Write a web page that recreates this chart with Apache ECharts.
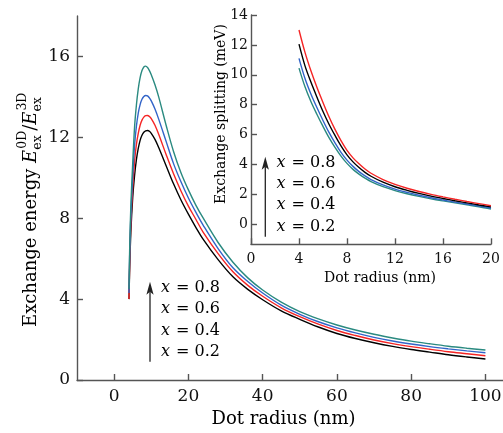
<!DOCTYPE html>
<html><head><meta charset="utf-8">
<script src="https://cdn.jsdelivr.net/npm/echarts@6/dist/echarts.min.js"></script>
<style>html,body{margin:0;padding:0;background:#fff}#c{width:503px;height:433px}</style>
</head><body><div id="c"></div>
<script>
// ---- data ----
const legendLabels = ['x = 0.8', 'x = 0.6', 'x = 0.4', 'x = 0.2'];
const mainXTicks = [0, 20, 40, 60, 80, 100];
const mainYTicks = [0, 4, 8, 12, 16];
const insetXTicks = [0, 4, 8, 12, 16, 20];
const insetYTicks = [0, 2, 4, 6, 8, 10, 12, 14];

const mainRadius = [4,4.2,4.5,5,5.5,6,6.5,7,7.5,8,8.5,9,9.5,10,11,12,14,16,18,20,22,24,28,32,36,40,45,50,55,60,65,70,75,80,85,90,95,100];
const mainX08 = [4.5,6.6,8.6,10.7,12.5,13.6,14.4,14.95,15.3,15.48,15.52,15.45,15.3,15.1,14.6,14.0,12.6,11.3,10.25,9.4,8.65,8.0,6.8,5.82,5.05,4.45,3.85,3.38,3.02,2.72,2.47,2.26,2.08,1.92,1.79,1.67,1.57,1.48];
const mainX06 = [4.3,6.3,8.1,10.05,11.6,12.55,13.2,13.62,13.88,14.02,14.07,14.05,13.95,13.8,13.4,12.9,11.8,10.7,9.8,9.0,8.3,7.65,6.5,5.55,4.87,4.3,3.7,3.25,2.88,2.58,2.33,2.11,1.93,1.78,1.65,1.54,1.44,1.35];
const mainX04 = [4.0,5.9,7.7,9.5,10.8,11.65,12.2,12.6,12.85,13.0,13.07,13.08,13.03,12.93,12.6,12.15,11.15,10.2,9.35,8.6,7.95,7.3,6.25,5.35,4.68,4.14,3.57,3.13,2.76,2.45,2.2,1.98,1.8,1.65,1.52,1.4,1.3,1.2];
const mainX02 = [4.0,5.6,7.3,9.0,10.1,10.9,11.45,11.85,12.1,12.25,12.32,12.34,12.3,12.2,11.9,11.5,10.6,9.7,8.9,8.2,7.55,6.95,5.95,5.1,4.48,3.97,3.42,3.0,2.62,2.3,2.05,1.84,1.66,1.51,1.38,1.25,1.14,1.04];

const insetRadius = [4,4.5,5,5.5,6,6.5,7,7.5,8,8.5,9,9.5,10,11,12,13,14,15,16,17,18,19,20];
const insetRed   = [13.0,11.5,10.25,9.15,8.15,7.2,6.35,5.6,4.95,4.45,4.05,3.7,3.42,3.0,2.68,2.42,2.2,2.01,1.84,1.68,1.53,1.39,1.25];
const insetBlack = [12.05,10.6,9.5,8.5,7.55,6.7,5.95,5.25,4.65,4.18,3.8,3.48,3.22,2.82,2.52,2.28,2.07,1.89,1.73,1.58,1.44,1.3,1.17];
const insetBlue  = [11.1,9.75,8.7,7.8,6.95,6.15,5.45,4.82,4.3,3.88,3.53,3.24,3.0,2.64,2.36,2.14,1.95,1.78,1.63,1.49,1.36,1.23,1.1];
const insetTeal  = [10.45,9.2,8.2,7.35,6.55,5.8,5.15,4.57,4.08,3.68,3.36,3.09,2.86,2.52,2.26,2.05,1.87,1.71,1.57,1.44,1.31,1.18,1.03];

// ---- styling ----
const FONT = 'DejaVu Serif';
const AX = '#555';
const C_TEAL = '#2a8a80', C_BLUE = '#3264c8', C_RED = '#f52525', C_BLACK = '#000000';

const pairs = (xs, ys) => xs.map((x, i) => [x, ys[i]]);
const line = (name, xs, ys, color, idx) => ({
  name, type: 'line', data: pairs(xs, ys), xAxisIndex: idx, yAxisIndex: idx,
  showSymbol: false, smooth: 0.35, silent: true, animation: false,
  lineStyle: { color, width: 1.4 }
});

const ctx = document.createElement('canvas').getContext('2d');
function tw(t, size, italic) { ctx.font = (italic ? 'italic ' : '') + size + 'px "DejaVu Serif"'; return ctx.measureText(t).width; }
function txt(x, y, t, size, italic, align) {
  return { type: 'text', x, y, style: { text: t, fontSize: size, fontFamily: FONT, fontStyle: italic ? 'italic' : 'normal', fill: '#000', textAlign: align || 'left', verticalAlign: 'middle', textVerticalAlign: 'middle' } };
}

// main y title pieces
const yt = [];
let cx = 0;
function piece(t, size, italic, dy) { yt.push(txt(cx, dy, t, size, italic)); }
piece('Exchange energy ', 18, false, 0); cx += tw('Exchange energy ', 18, false);
function Eterm(sup) {
  piece('E', 18, true, 0); cx += tw('E', 18, true);
  const x0 = cx;
  piece('ex', 12.5, false, 6.5);
  cx = x0 + 1; piece(sup, 12.5, false, -8);
  cx = x0 + Math.max(tw('ex', 12.5, false), tw(sup, 12.5, false) + 1);
}
Eterm('0D');
piece('/', 18, false, 0); cx += tw('/', 18, false);
Eterm('3D');

function legendBlock(x0, ys, ax, yTop, yBot) {
  const els = [];
  legendLabels.forEach((lab, i) => {
    const first = lab.slice(0, 1), rest = lab.slice(1);
    els.push(txt(x0, ys[i], first, 16, true));
    els.push(txt(x0 + tw(first, 16, true) + 1, ys[i], rest, 16, false));
  });
  els.push({ type: 'line', shape: { x1: ax, y1: yBot, x2: ax, y2: yTop + 10 }, style: { stroke: '#222', lineWidth: 1.3 } });
  els.push({ type: 'polygon', shape: { points: [[ax, yTop], [ax - 3.6, yTop + 13], [ax, yTop + 10], [ax + 3.6, yTop + 13]] }, style: { fill: '#222' } });
  return els;
}

const axCommon = (ticks, fs, margin) => ({
  type: 'value',
  axisLine: { show: true, onZero: false, lineStyle: { color: AX, width: 1.4 } },
  axisTick: { show: true, inside: true, length: 6, customValues: ticks, lineStyle: { color: AX, width: 1.4 } },
  axisLabel: { customValues: ticks, fontSize: fs, fontFamily: FONT, color: '#111', margin },
  splitLine: { show: false }
});

const chart = echarts.init(document.getElementById('c'), null, { renderer: 'canvas' });
chart.setOption({
  animation: false,
  backgroundColor: '#fff',
  grid: [
    { left: 77, right: -1, top: 16, bottom: 53, outerBoundsMode: 'none', containLabel: false },
    { left: 251, right: 12, top: 15, bottom: 188.7, outerBoundsMode: 'none', containLabel: false }
  ],
  xAxis: [
    Object.assign(axCommon(mainXTicks, 17, 8), { gridIndex: 0, min: -10, max: 105 }),
    Object.assign(axCommon(insetXTicks, 14, 8), { gridIndex: 1, min: 0, max: 20 })
  ],
  yAxis: [
    Object.assign(axCommon(mainYTicks, 17, 7), { gridIndex: 0, min: 0, max: 18 }),
    Object.assign(axCommon(insetYTicks, 14, 3), { gridIndex: 1, min: -1.33, max: 14 })
  ],
  series: [
    line('x = 0.2', mainRadius, mainX02, C_BLACK, 0),
    line('x = 0.4', mainRadius, mainX04, C_RED, 0),
    line('x = 0.6', mainRadius, mainX06, C_BLUE, 0),
    line('x = 0.8', mainRadius, mainX08, C_TEAL, 0),
    line('inset teal', insetRadius, insetTeal, C_TEAL, 1),
    line('inset blue', insetRadius, insetBlue, C_BLUE, 1),
    line('inset black', insetRadius, insetBlack, C_BLACK, 1),
    line('inset red', insetRadius, insetRed, C_RED, 1)
  ],
  graphic: [
    txt(283.5, 419, 'Dot radius (nm)', 18, false, 'center'),
    txt(380, 278, 'Dot radius (nm)', 14, false, 'center'),
    Object.assign(txt(221.5, 114, 'Exchange splitting (meV)', 14, false, 'center'), { rotation: Math.PI / 2 }),
    { type: 'group', x: 31, y: 327, rotation: Math.PI / 2, children: yt },
    { type: 'group', children: legendBlock(161, [288.3, 309.3, 331, 352.3], 150, 281.7, 361.7) },
    { type: 'group', children: legendBlock(276.5, [163.3, 184.3, 204.7, 226.7], 265.3, 156.7, 236.7) }
  ]
});
</script>
</body></html>
